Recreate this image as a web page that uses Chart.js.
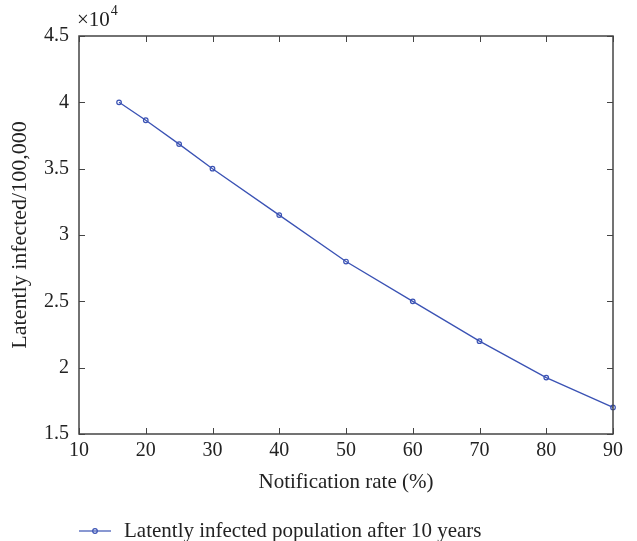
<!DOCTYPE html>
<html><head><meta charset="utf-8">
<script src="https://cdn.jsdelivr.net/npm/chart.js@4/dist/chart.umd.min.js"></script>
<style>html,body{margin:0;padding:0;background:#fff}#wrap{width:637px;height:541px}</style>
</head><body><div id="wrap"><canvas id="c" width="637" height="541"></canvas></div>
<script>
const notificationRate = [16, 20, 25, 30, 40, 50, 60, 70, 80, 90];
const latentlyInfected = [40000, 38650, 36850, 35000, 31500, 28000, 25000, 22000, 19250, 17000];
const xTicks = [10, 20, 30, 40, 50, 60, 70, 80, 90];
const yTicks = [15000, 20000, 25000, 30000, 35000, 40000, 45000];
const seriesLabel = 'Latently infected population after 10 years';
const xTitle = 'Notification rate (%)';
const yTitle = 'Latently infected/100,000';

const FONT = '"Liberation Serif", "DejaVu Serif", serif';
const LINE = '#3a52b4';
const AXIS = '#444444';

const framePlugin = {
  id: 'frame',
  afterDraw(chart) {
    const ctx = chart.ctx, a = chart.chartArea;
    const xs = chart.scales.x, ys = chart.scales.y;
    ctx.save();
    ctx.strokeStyle = AXIS; ctx.lineWidth = 1.5;
    ctx.strokeRect(a.left, a.top, a.right - a.left, a.bottom - a.top);
    ctx.lineWidth = 1;
    const L = 6;
    ctx.beginPath();
    xTicks.forEach(v => {
      const px = Math.round(xs.getPixelForValue(v)) + 0.5;
      ctx.moveTo(px, a.bottom); ctx.lineTo(px, a.bottom - L);
      ctx.moveTo(px, a.top); ctx.lineTo(px, a.top + L);
    });
    yTicks.forEach(v => {
      const py = Math.round(ys.getPixelForValue(v)) + 0.5;
      ctx.moveTo(a.left, py); ctx.lineTo(a.left + L, py);
      ctx.moveTo(a.right, py); ctx.lineTo(a.right - L, py);
    });
    ctx.stroke();
    // exponent label
    ctx.fillStyle = '#222';
    ctx.textBaseline = 'alphabetic';
    ctx.textAlign = 'left';
    ctx.font = '21px ' + FONT;
    ctx.fillText('\u00d710', a.left - 2, a.top - 10);
    const w = ctx.measureText('\u00d710').width;
    ctx.font = '14px ' + FONT;
    ctx.fillText('4', a.left - 2 + w + 1, a.top - 21);
    // legend
    const ly = 531, lx0 = a.left, lx1 = a.left + 32;
    ctx.strokeStyle = LINE; ctx.lineWidth = 1.2;
    ctx.beginPath(); ctx.moveTo(lx0, ly); ctx.lineTo(lx1, ly); ctx.stroke();
    ctx.beginPath(); ctx.arc((lx0 + lx1) / 2, ly, 2.3, 0, Math.PI * 2); ctx.stroke();
    ctx.fillStyle = '#222';
    ctx.font = '21px ' + FONT;
    ctx.textBaseline = 'middle';
    ctx.fillText(chart.data.datasets[0].label, a.left + 45, ly);
    ctx.restore();
  }
};

new Chart(document.getElementById('c'), {
  type: 'line',
  data: {
    datasets: [{
      label: seriesLabel,
      data: notificationRate.map((x, i) => ({x, y: latentlyInfected[i]})),
      borderColor: LINE,
      backgroundColor: 'rgba(0,0,0,0)',
      borderWidth: 1.3,
      pointRadius: 2.3,
      pointBorderWidth: 1.2,
      pointBorderColor: LINE,
      pointBackgroundColor: 'rgba(255,255,255,0)',
      tension: 0,
      clip: false
    }]
  },
  options: {
    responsive: false,
    animation: false,
    events: [],
    layout: {padding: {left: 0, right: 24, top: 36, bottom: 46}},
    plugins: {legend: {display: false}, tooltip: {enabled: false}},
    scales: {
      x: {
        type: 'linear', min: 10, max: 90,
        afterBuildTicks: s => { s.ticks = xTicks.map(v => ({value: v})); },
        afterFit: s => { s.height = 61; },
        grid: {display: false, drawTicks: false},
        border: {display: false},
        ticks: {color: '#222', padding: 5, font: {family: FONT, size: 20}, maxRotation: 0},
        title: {display: true, text: xTitle, color: '#222', font: {family: FONT, size: 21}, padding: {top: 0, bottom: 0}}
      },
      y: {
        type: 'linear', min: 15000, max: 45000,
        afterBuildTicks: s => { s.ticks = yTicks.map(v => ({value: v})); },
        afterFit: s => { s.width = 79; },
        grid: {display: false, drawTicks: false},
        border: {display: false},
        ticks: {color: '#222', padding: 10, font: {family: FONT, size: 20},
          callback: v => String(v / 10000)},
        title: {display: true, text: yTitle, color: '#222', font: {family: FONT, size: 22}, padding: {top: 7, bottom: 0}}
      }
    }
  },
  plugins: [framePlugin]
});
</script></body></html>
